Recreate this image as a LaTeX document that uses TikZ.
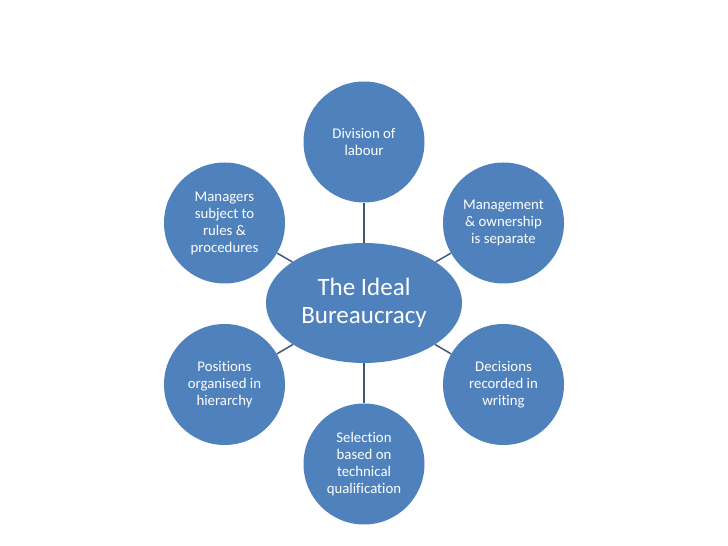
\documentclass[tikz,border=0pt]{standalone}
\usepackage{fontspec}
\setmainfont{Carlito}[Ligatures=NoCommon]
\usetikzlibrary{shapes.geometric}
\definecolor{bubblefill}{RGB}{79,129,189}
\definecolor{linkgray}{RGB}{62,90,120}

\begin{document}
\begin{tikzpicture}[x=1pt,y=1pt,
		bubble/.style={circle,fill=bubblefill,text=white,minimum size=121pt,inner sep=0pt,
			align=center,font=\fontsize{14.8}{17}\selectfont},
		hub/.style={ellipse,fill=bubblefill,text=white,minimum width=196pt,minimum height=120pt,
			inner sep=0pt,align=center,font=\fontsize{25}{28}\selectfont},
		link/.style={draw=linkgray,line width=1.5pt}]
		\useasboundingbox (0,0) rectangle (728,546);
		\node[hub] (core) at (364,243) {The Ideal\\Bureaucracy};
		\node[bubble] (labour) at (364,404) {Division of\\labour};
		\node[bubble] (owner) at (503.5,323) {Management\\\& ownership\\is separate};
		\node[bubble] (writing) at (503.5,161.5) {Decisions\\recorded in\\writing};
		\node[bubble] (select) at (364,82) {Selection\\based on\\technical\\qualification};
		\node[bubble] (rank) at (224.5,161.5) {Positions\\organised in\\hierarchy};
		\node[bubble] (rules) at (224.5,323) {Managers\\subject to\\rules \&\\procedures};
		% spokes from the hub
		\foreach \leaf in {labour,owner,writing,select,rank,rules}
			\draw[link] (core) -- (\leaf);
\end{tikzpicture}
\end{document}
